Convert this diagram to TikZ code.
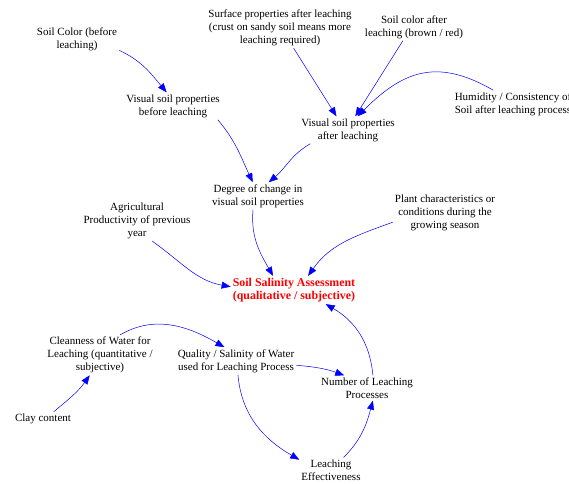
\documentclass[tikz,border=0pt]{standalone}
\usepackage{fontspec}
\setmainfont{Liberation Serif}
\usetikzlibrary{arrows.meta}

\tikzset{
  var/.style={align=center, inner sep=2pt, font=\fontsize{11}{13}\selectfont},
  key/.style={var, text=red, font=\fontsize{11.9}{13}\selectfont\bfseries},
  link/.style={blue, line width=0.5pt, -{Triangle[length=9pt,width=7pt]}}
}

\begin{document}
\begin{tikzpicture}[x=1pt, y=-1pt]
    \useasboundingbox (0,0) rectangle (569,483);

    \node[var] at (77, 39) (soilcolor) {Soil Color (before\\leaching)};
    \node[var] at (173, 106) (visbefore) {Visual soil properties\\before leaching};
    \node[var] at (280, 28) (surface) {Surface properties after leaching\\(crust on sandy soil means more\\leaching required)};
    \node[var] at (414, 27) (colorafter) {Soil color after\\leaching (brown / red)};
    \node[var] at (513, 104) (humidity) {Humidity / Consistency of\\Soil after leaching process};
    \node[var] at (348, 130) (visafter) {Visual soil properties\\after leaching};
    \node[var] at (258, 196) (degree) {Degree of change in\\visual soil properties};
    \node[var] at (137, 221) (agri) {Agricultural\\Productivity of previous\\year};
    \node[var] at (445, 213) (plant) {Plant characteristics or\\conditions during the\\growing season};
    \node[key] at (294, 290) (salinity) {Soil Salinity Assessment\\(qualitative / subjective)};
    \node[var] at (100, 355) (clean) {Cleanness of Water for\\Leaching (quantitative /\\subjective)};
    \node[var] at (236, 361) (quality) {Quality / Salinity of Water\\used for Leaching Process};
    \node[var] at (367, 388) (number) {Number of Leaching\\Processes};
    \node[var] at (43, 419) (clay) {Clay content};
    \node[var] at (331, 470) (effect) {Leaching\\Effectiveness};

    % upper part
    \draw[link] (soilcolor.-15) to[out=-25, in=130] (visbefore.115);
    \draw[link] (visbefore.-17) to[out=-50, in=115] (degree.111);
    \draw[link] (visafter.200) to[out=210, in=40] (degree.52);
    \draw[link] (surface.-56) -- (visafter.130);
    \draw[link] (colorafter.231) -- (visafter.62);
    \draw[link] (humidity.145) to[out=150, in=45, looseness=1.2] (visafter.55);

    % into the assessment
    \draw[link] (degree.250) to[out=-95, in=120] (salinity.146);
    \draw[link] (agri.-53) to[out=-35, in=170] (salinity.177);
    \draw[link] (plant.190) to[out=200, in=55] (salinity.45);
    \draw[link] (number.65) to[out=95, in=-30] (salinity.-24);

    % water and leaching
    \draw[link] (clean.45) to[out=30, in=150] (quality.130);
    \draw[link] (clay.34) to[out=40, in=235] (clean.243);
    \draw[link] (quality.-4) to[out=-5, in=160] (number.151);
    \draw[link] (quality.-82) to[out=-85, in=150] (effect.162);
    \draw[link] (effect.45) to[out=45, in=-105] (number.-65);
\end{tikzpicture}
\end{document}
